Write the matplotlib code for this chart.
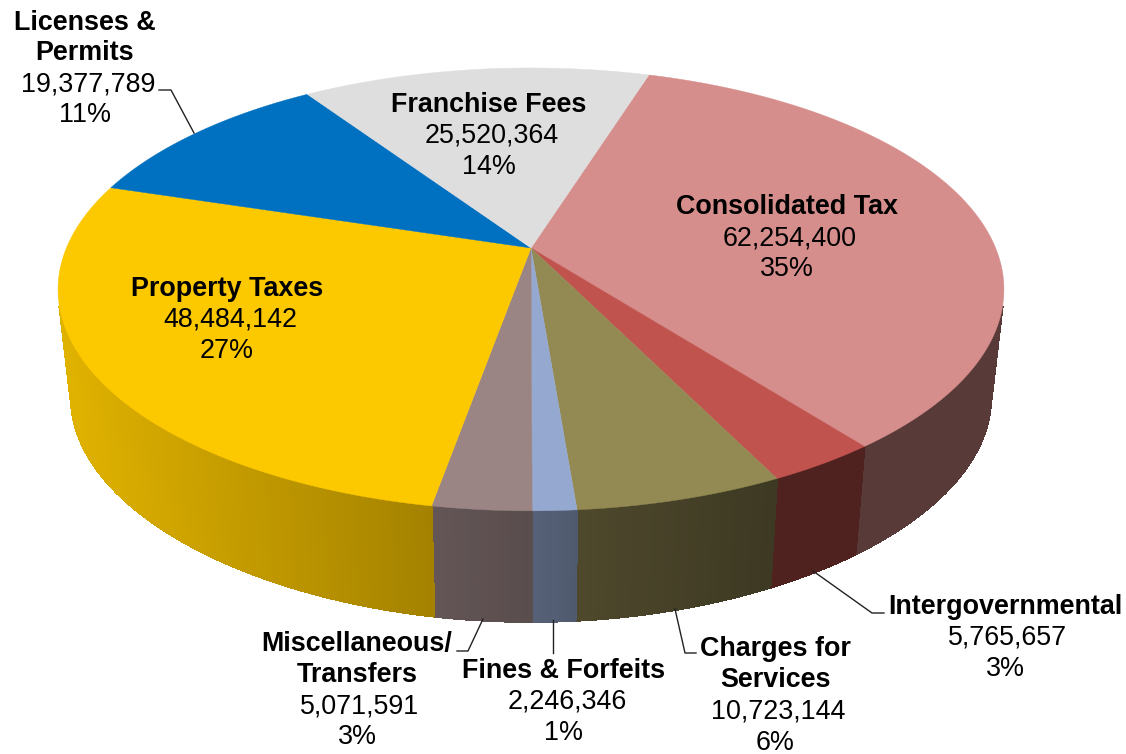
import numpy as np
import matplotlib
matplotlib.use('Agg')
import matplotlib.pyplot as plt

plt.rcParams['font.family'] = ['Liberation Sans', 'DejaVu Sans']

names = ['Consolidated Tax', 'Intergovernmental', 'Charges for\nServices',
         'Fines & Forfeits', 'Miscellaneous/\nTransfers', 'Property Taxes',
         'Licenses &\nPermits', 'Franchise Fees']
values = [62254400, 5765657, 10723144, 2246346, 5071591, 48484142,
          19377789, 25520364]

colors = ['#D68E8C', '#C1534E', '#938953', '#95A8CF', '#9A8484', '#FCC800',
          '#0070C0', '#DEDEDE']
label_x = [787, 1005, 775, 564, 357, 227, 85, 489]
label_y = [207.5, 606.5, 649.5, 670.5, 644.5, 288.5, 22.5, 104.5]

leaders = {
    'Intergovernmental': ([813, 872, 884], [571, 613, 613]),
    'Charges for\nServices': ([675, 685, 696], [609, 653, 653]),
    'Fines & Forfeits': ([553, 553], [620, 653]),
    'Miscellaneous/\nTransfers': ([483, 468, 457], [619, 651, 651]),
    'Licenses &\nPermits': ([194, 171, 159], [133, 90, 90]),
}

# pie geometry in image pixels, the disc is seen in perspective
CX, CY = 531, 248
A, B, K = 464.6, 213.7, -0.187
START = -72.6
SHRINK = 0.973
WALL_FROM, WALL_TO = 15, 165  # where the wall comes out from under the disc
FONT = 19.4
LINE = 31
NUM_SHIFT = 3  # the number rows sit a little right of the others


def top_rim(deg):
    t = np.radians(deg)
    d = 1 + K * np.sin(t)
    return CX + A * np.cos(t) / d, CY + B * np.sin(t) / d


def bottom_rim(deg):
    x, y = top_rim(deg)
    depth = 107 + 4 * np.sin(np.radians(deg)) ** 6
    return CX + (x - CX) * SHRINK, y + depth


def shade(color, x):
    f = np.interp(x, [60, 430, 530, 580, 780, 1000],
                  [0.89, 0.65, 0.58, 0.53, 0.41, 0.41])
    r, g, b = matplotlib.colors.to_rgb(color)
    return r * f, g * f, b * f


fig = plt.figure(figsize=(11.26, 7.54), dpi=100)
ax = fig.add_axes([0, 0, 1, 1])
ax.set_xlim(0, 1126)
ax.set_ylim(754, 0)
ax.axis('off')

total = sum(values)
sweeps = np.array(values) / total * 360
edges = START + np.concatenate([[0], np.cumsum(sweeps)])

# side walls first, split up so the shading can change along the rim
# no antialiasing inside the wall or the strips show, the rim line smooths it
for i, color in enumerate(colors):
    lo, hi = max(edges[i], WALL_FROM), min(edges[i + 1], WALL_TO)
    if lo >= hi:
        continue
    steps = np.append(np.arange(lo, hi, 0.5), hi)
    for a0, a1 in zip(steps[:-1], steps[1:]):
        x0, y0 = top_rim(a0)
        x1, y1 = top_rim(a1)
        x2, y2 = bottom_rim(a1)
        x3, y3 = bottom_rim(a0)
        c = shade(color, (x0 + x1) / 2)
        ax.fill([x0, x1, x2, x3], [y0, y1, y2, y3], color=c, lw=0.8,
                antialiased=False, zorder=1)
    for a0, a1 in zip(steps[:-1], steps[1:]):
        x0, y0 = bottom_rim(a0)
        x1, y1 = bottom_rim(a1)
        ax.plot([x0, x1], [y0, y1], color=shade(color, (x0 + x1) / 2), lw=0.9,
                solid_capstyle='round', zorder=1.5)
    # silhouette of the wall on the far left and right
    for deg in (lo, hi):
        if deg in (WALL_FROM, WALL_TO):
            x0, y0 = top_rim(deg)
            x1, y1 = bottom_rim(deg)
            ax.plot([x0, x1], [y0, y1], color=shade(color, x0), lw=0.9,
                    zorder=1.5)

# top faces
for i, color in enumerate(colors):
    px, py = top_rim(np.linspace(edges[i], edges[i + 1], 200))
    ax.fill(np.append(CX, px), np.append(CY, py), color=color, lw=0.3, zorder=2)

for xs, ys in leaders.values():
    ax.plot(xs, ys, color='#222222', lw=1.0, zorder=3)

for name, value, x, y in zip(names, values, label_x, label_y):
    rows = name.split('\n')
    for j, row in enumerate(rows):
        ax.text(x, y + j * LINE * 0.97, row, fontsize=FONT, fontweight='bold',
                ha='center', va='center', color='black', zorder=4)
    y2 = y + len(rows) * LINE
    ax.text(x + NUM_SHIFT, y2, f'{value:,}', fontsize=FONT, ha='center',
            va='center', color='black', zorder=4)
    ax.text(x, y2 + LINE, f'{value / total * 100:.0f}%', fontsize=FONT,
            ha='center', va='center', color='black', zorder=4)

fig.savefig('out.png', dpi=100)
